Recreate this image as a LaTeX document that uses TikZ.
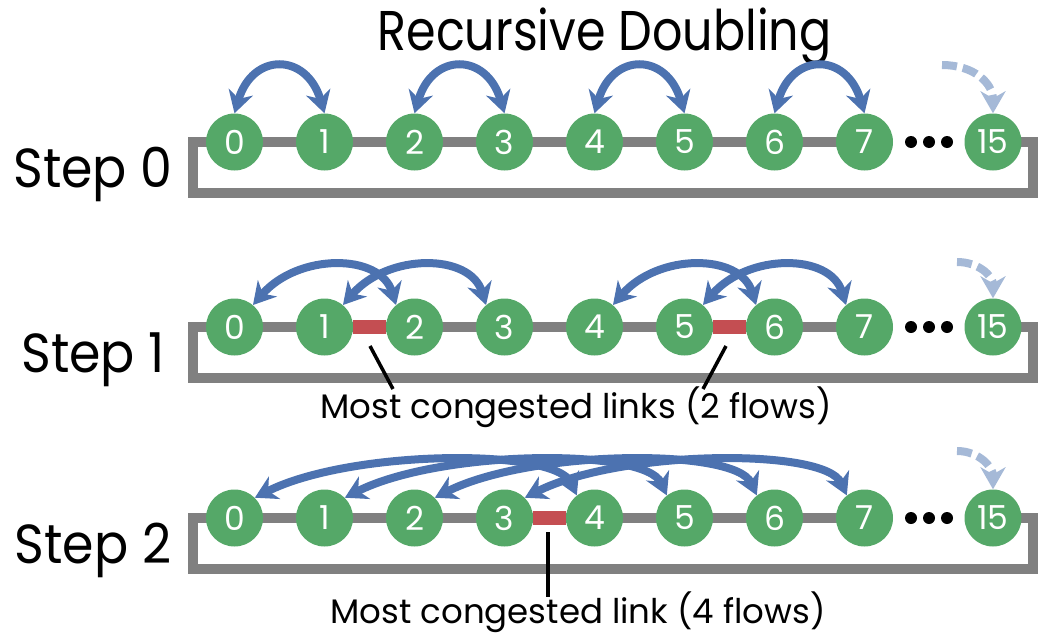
\documentclass[tikz,border=0pt]{standalone}
\usepackage{fontspec}
\setmainfont{Poppins}
\usetikzlibrary{arrows.meta}
\definecolor{nodegreen}{HTML}{55A868}
\definecolor{flowblue}{HTML}{4C72B0}
\definecolor{hotred}{HTML}{C44E52}
\definecolor{busgray}{HTML}{808080}

\begin{document}
\begin{tikzpicture}[x=1pt,y=-1pt,
  rank/.style={circle, fill=nodegreen, minimum size=57pt, inner sep=0pt,
    text=white, font=\fontsize{33}{33}\selectfont},
  bus/.style={busgray, line width=10pt, line join=miter},
  hot/.style={hotred, line width=14pt},
  tip/.tip={Stealth[length=22pt,width=25pt,inset=7pt]},
  flow/.style={flowblue, line width=8pt, tip-tip},
  ghost/.style={flowblue!50, line width=8pt, dash pattern=on 15pt off 6pt, -tip},
  steplabel/.style={font=\fontsize{55}{55}\selectfont, anchor=base},
  note/.style={font=\fontsize{34}{34}\selectfont, anchor=base},
  pointer/.style={black, line width=3.5pt},
  dot/.style={circle, fill=black, minimum size=12pt, inner sep=0pt}
]
\useasboundingbox (0,0) rectangle (1039,635);

% title
\node[font=\fontsize{56}{56}\selectfont, anchor=base] (title) at (604.5,50)
  {\scalebox{0.85}[1]{Recursive Doubling}};

% three rows of ranks on a ring
\foreach \r/\y/\s in {a/142/0, b/327/1, c/518/2} {
  \foreach \i in {0,...,7}
    \coordinate (\r p\i) at ({234.5+90*\i},\y);
  \coordinate (\r p15) at (993,\y);
  % ring links
  \draw[bus] (\r p0) -- (\r p7);
  \draw[bus] (\r p15) -- ++(40,0) -- ++(0,51) -- ++(-840,0) -- ++(0,-51) -- (\r p0);
  % ranks
  \foreach \i in {0,...,7}
    \node[rank] (\r\i) at (\r p\i) {\i};
  \node[rank] (\r15) at (\r p15) {15};
  % ellipsis
  \node[dot] (\r d1) at (911,\y) {};
  \node[dot] (\r d2) at (929,\y) {};
  \node[dot] (\r d3) at (947,\y) {};
  % step label
  \node[steplabel] (\r lab) at (93,{\y+45}) {\scalebox{0.92}[1]{Step \s}};
}

% congested links
\draw[hot] (b1.east) -- (b2.west);
\draw[hot] (b5.east) -- (b6.west);
\draw[hot] (c3.east) -- (c4.west);

% step 0: pairs at distance 1
\foreach \i/\j in {0/1, 2/3, 4/5, 6/7}
  \draw[flow] (a\i.north) .. controls +(18,-61) and +(-18,-61) .. (a\j.north);

% step 1: pairs at distance 2
\foreach \i/\j in {0/2, 1/3, 4/6, 5/7}
  \draw[flow] (b\i.50) .. controls +(45,-52) and +(-16,-52) .. (b\j.130);

% step 2: pairs at distance 4
\foreach \i/\j in {0/4, 1/5, 2/6, 3/7}
  \draw[flow] (c\i.45) .. controls +(95,-48) and +(-22,-48) .. (c\j.128);

% faded exchanges of the remaining ranks
\coordinate (ag) at (942,65);
\coordinate (bg) at (957,262);
\coordinate (cg) at (957,451);
\draw[ghost] (ag) .. controls +(32,0) and +(0,-30) .. (a15.north);
\draw[ghost] (bg) .. controls +(22,0) and +(0,-22) .. (b15.north);
\draw[ghost] (cg) .. controls +(22,0) and +(0,-22) .. (c15.north);

% annotations
\node[note] (n1) at (576,418) {Most congested links (2 flows)};
\node[note] (n2) at (578,623) {Most congested link (4 flows)};
\coordinate (b12) at (370,346);
\coordinate (b56) at (726,346);
\coordinate (c34) at (548,532);
\coordinate (n1l) at (393,389);
\coordinate (n1r) at (703,389);
\coordinate (n2t) at (548,597);
\draw[pointer] (b12) -- (n1l);
\draw[pointer] (b56) -- (n1r);
\draw[pointer] (c34) -- (n2t);
\end{tikzpicture}
\end{document}
